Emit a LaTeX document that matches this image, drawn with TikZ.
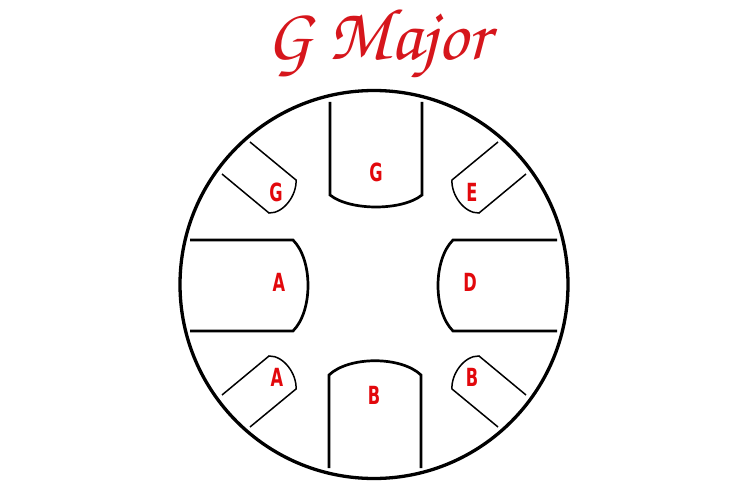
\documentclass[tikz,border=0pt]{standalone}
\usepackage{fontspec}
\usepackage{graphicx}

\newfontfamily\notefont{DejaVu Sans Condensed}
\definecolor{notered}{RGB}{226,8,12}
\definecolor{titlered}{RGB}{214,22,28}

\tikzset{
  rim/.style={line width=3.3pt},
  bigtab/.style={line width=2.7pt},
  smalltab/.style={line width=1.5pt},
  note/.style={text=notered, inner sep=0pt,
    font={\notefont\bfseries\fontsize{25}{25}\selectfont}},
  heading/.style={text=titlered, inner sep=0pt, anchor=base,
    font={\fontencoding{T1}\fontfamily{pzc}\fontseries{mb}\fontshape{it}\fontsize{74}{74}\selectfont}}
}
\newcommand{\narrow}[1]{\scalebox{0.72}[1]{#1}}

\begin{document}
\begin{tikzpicture}[x=1pt,y=-1pt]
\useasboundingbox (0,0) rectangle (750,500);

% Title
\node[heading] (title) at (378,60) {G Major};

% Outer ring
\draw[rim] (374,284.5) circle (194pt);

% Big tabs (top, bottom, left, right)
\draw[bigtab] (330,102) -- (330,195)
    .. controls (350,211) and (402,211) .. (422,195) -- (422,102);
\draw[bigtab] (329,468) -- (329,375)
    .. controls (349,356) and (401,356) .. (421,375) -- (421,468);
\draw[bigtab] (190,240) -- (293,240)
    .. controls (313,260) and (313,311) .. (293,331) -- (190,331);
\draw[bigtab] (557,240) -- (453,240)
    .. controls (433,260) and (433,311) .. (453,331) -- (557,331);

% Small tabs on the diagonals, mirrored round the centre
\foreach \sx/\sy in {1/1,-1/1,1/-1,-1/-1} {
    \begin{scope}[shift={(374,284.5)}, xscale=\sx, yscale=\sy]
        \draw[smalltab] (-124,-142.5) -- (-78,-104.5)
            .. controls (-77,-90) and (-90,-71) .. (-105,-71.5)
            -- (-152,-110.5);
    \end{scope}
}

% Notes
\node[note] (noteTop)    at (376,172) {\narrow{G}};
\node[note] (noteBottom) at (374,395) {\narrow{B}};
\node[note] (noteLeft)   at (279,282) {\narrow{A}};
\node[note] (noteRight)  at (470,282) {\narrow{D}};
\node[note] (noteUL)     at (276,192) {\narrow{G}};
\node[note] (noteUR)     at (472,192) {\narrow{E}};
\node[note] (noteLL)     at (277,377) {\narrow{A}};
\node[note] (noteLR)     at (472,377) {\narrow{B}};

\end{tikzpicture}
\end{document}
